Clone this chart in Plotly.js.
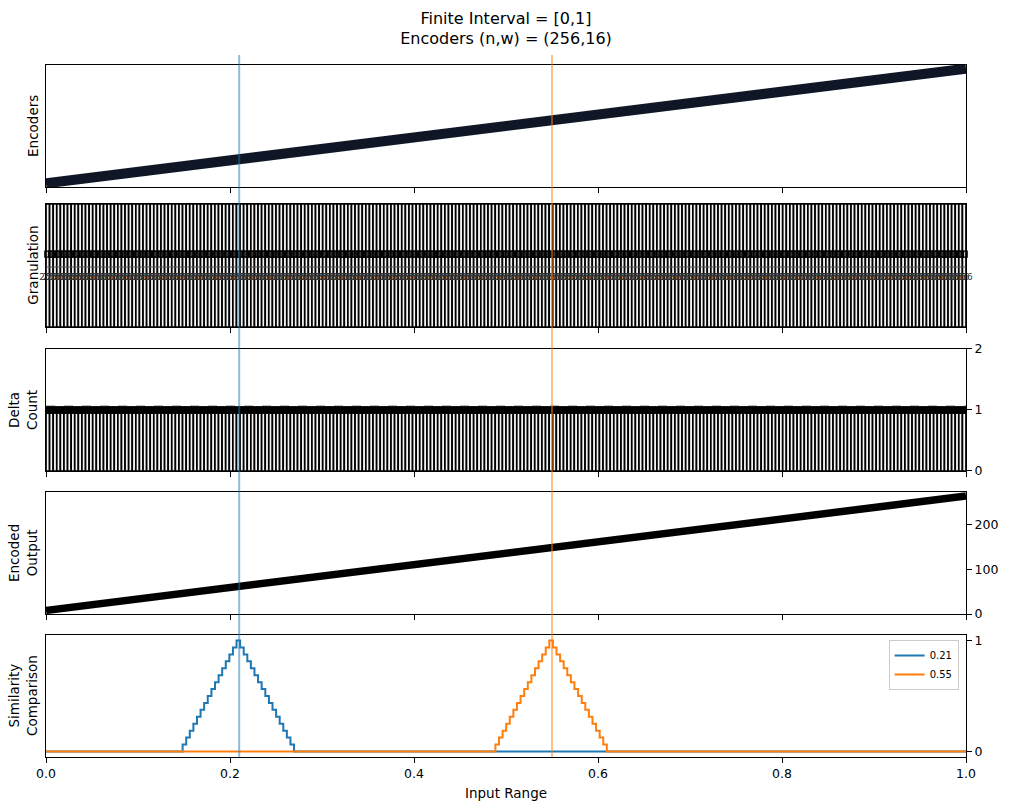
<!DOCTYPE html>
<html>
<head>
<meta charset="utf-8">
<script src="https://cdn.plot.ly/plotly-3.0.1.min.js"></script>
<style>html,body{margin:0;padding:0;background:#fff;}#chart{width:1011px;height:811px;}</style>
</head>
<body>
<div id="chart"></div>
<script>
// ---------------- data ----------------
// Encoders band (start/end of the diagonal band, relative height)
const encoderX = [0, 1];
const encoderY = [0.03, 0.97];

// Granulation: one bucket per encoder bin (256 bins)
const granulation = [
  1,1,1,1,1,1,1,1, 1,1,1,1,1,1,1,1, 1,1,1,1,1,1,1,1, 1,1,1,1,1,1,1,1,
  1,1,1,1,1,1,1,1, 1,1,1,1,1,1,1,1, 1,1,1,1,1,1,1,1, 1,1,1,1,1,1,1,1,
  1,1,1,1,1,1,1,1, 1,1,1,1,1,1,1,1, 1,1,1,1,1,1,1,1, 1,1,1,1,1,1,1,1,
  1,1,1,1,1,1,1,1, 1,1,1,1,1,1,1,1, 1,1,1,1,1,1,1,1, 1,1,1,1,1,1,1,1,
  1,1,1,1,1,1,1,1, 1,1,1,1,1,1,1,1, 1,1,1,1,1,1,1,1, 1,1,1,1,1,1,1,1,
  1,1,1,1,1,1,1,1, 1,1,1,1,1,1,1,1, 1,1,1,1,1,1,1,1, 1,1,1,1,1,1,1,1,
  1,1,1,1,1,1,1,1, 1,1,1,1,1,1,1,1, 1,1,1,1,1,1,1,1, 1,1,1,1,1,1,1,1,
  1,1,1,1,1,1,1,1, 1,1,1,1,1,1,1,1, 1,1,1,1,1,1,1,1, 1,1,1,1,1,1,1,1
];
const granulationLabel = "256";

// Delta count per bin
const deltaCount = [
  1,1,1,1,1,1,1,1, 1,1,1,1,1,1,1,1, 1,1,1,1,1,1,1,1, 1,1,1,1,1,1,1,1,
  1,1,1,1,1,1,1,1, 1,1,1,1,1,1,1,1, 1,1,1,1,1,1,1,1, 1,1,1,1,1,1,1,1,
  1,1,1,1,1,1,1,1, 1,1,1,1,1,1,1,1, 1,1,1,1,1,1,1,1, 1,1,1,1,1,1,1,1,
  1,1,1,1,1,1,1,1, 1,1,1,1,1,1,1,1, 1,1,1,1,1,1,1,1, 1,1,1,1,1,1,1,1,
  1,1,1,1,1,1,1,1, 1,1,1,1,1,1,1,1, 1,1,1,1,1,1,1,1, 1,1,1,1,1,1,1,1,
  1,1,1,1,1,1,1,1, 1,1,1,1,1,1,1,1, 1,1,1,1,1,1,1,1, 1,1,1,1,1,1,1,1,
  1,1,1,1,1,1,1,1, 1,1,1,1,1,1,1,1, 1,1,1,1,1,1,1,1, 1,1,1,1,1,1,1,1,
  1,1,1,1,1,1,1,1, 1,1,1,1,1,1,1,1, 1,1,1,1,1,1,1,1, 1,1,1,1,1,1,1,1
];
const deltaRefX = [0, 1];
const deltaRefY = [1.07, 1.07];

// Encoded output
const encodedX = [0, 1];
const encodedY = [8, 263];

// Similarity comparison (step curves)
const sim021X = [0, 0.1485,0.1524,0.1563,0.1602,0.1641,0.1680,0.1719,0.1758,0.1798,0.1837,0.1876,0.1915,0.1954,0.1993,0.2032,0.2071,
  0.2110,0.2149,0.2188,0.2227,0.2266,0.2305,0.2344,0.2384,0.2423,0.2462,0.2501,0.2540,0.2579,0.2618,0.2657,0.2696, 1];
const sim021Y = [0, 0.0625,0.125,0.1875,0.25,0.3125,0.375,0.4375,0.5,0.5625,0.625,0.6875,0.75,0.8125,0.875,0.9375,1,
  0.9375,0.875,0.8125,0.75,0.6875,0.625,0.5625,0.5,0.4375,0.375,0.3125,0.25,0.1875,0.125,0.0625,0, 0];
const sim055X = [0, 0.4885,0.4924,0.4963,0.5002,0.5041,0.5080,0.5119,0.5158,0.5198,0.5237,0.5276,0.5315,0.5354,0.5393,0.5432,0.5471,
  0.5510,0.5549,0.5588,0.5627,0.5666,0.5705,0.5744,0.5784,0.5823,0.5862,0.5901,0.5940,0.5979,0.6018,0.6057,0.6096, 1];
const sim055Y = [0, 0.0625,0.125,0.1875,0.25,0.3125,0.375,0.4375,0.5,0.5625,0.625,0.6875,0.75,0.8125,0.875,0.9375,1,
  0.9375,0.875,0.8125,0.75,0.6875,0.625,0.5625,0.5,0.4375,0.375,0.3125,0.25,0.1875,0.125,0.0625,0, 0];

const probeValues = [0.21, 0.55];
const probeNames = ["0.21", "0.55"];
const xTicks = [0, 0.2, 0.4, 0.6, 0.8, 1.0];

// ---------------- styling ----------------
const FONT = "DejaVu Sans, Liberation Sans, sans-serif";
const BLUE = "#1f77b4", ORANGE = "#ff7f0e";
const binW = 1 / granulation.length;

const traces = [
  { type: "scatter", mode: "lines", x: encoderX, y: encoderY, xaxis: "x", yaxis: "y",
    line: { color: "#0f1726", width: 10 }, showlegend: false, hoverinfo: "skip" },

  { type: "bar", y: granulation, x0: binW / 2, dx: binW, width: binW, base: 0, xaxis: "x2", yaxis: "y2",
    marker: { color: "#f4f4f4", line: { color: "#000", width: 1.7 } }, showlegend: false, hoverinfo: "skip" },
  { type: "scatter", mode: "markers", y: granulation, x0: binW / 2, dx: binW, xaxis: "x2", yaxis: "y6",
    marker: { symbol: "square-open", size: 6, color: "#000", line: { color: "#000", width: 1.2 } },
    showlegend: false, hoverinfo: "skip", cliponaxis: false },
  { type: "scatter", mode: "text", y: granulation, x0: binW / 2, dx: binW, xaxis: "x2", yaxis: "y7",
    text: granulationLabel, textfont: { family: FONT, size: 9, color: "#333" },
    showlegend: false, hoverinfo: "skip", cliponaxis: false },

  { type: "bar", y: deltaCount, x0: binW / 2, dx: binW, width: binW, base: 0, xaxis: "x3", yaxis: "y3",
    marker: { color: "#f4f4f4", line: { color: "#000", width: 1.7 } }, showlegend: false, hoverinfo: "skip" },
  { type: "scatter", mode: "lines", x: deltaRefX, y: deltaRefY, xaxis: "x3", yaxis: "y3",
    line: { color: "#aaaaaa", width: 1, dash: "dash" }, showlegend: false, hoverinfo: "skip" },
  { type: "scatter", mode: "markers", y: deltaCount, x0: binW / 2, dx: binW, xaxis: "x3", yaxis: "y3",
    marker: { symbol: "circle", size: 8, color: "#000" }, showlegend: false, hoverinfo: "skip" },

  { type: "scatter", mode: "lines", x: encodedX, y: encodedY, xaxis: "x4", yaxis: "y4",
    line: { color: "#000", width: 7.5 }, showlegend: false, hoverinfo: "skip" },

  { type: "scatter", mode: "lines", x: sim021X, y: sim021Y, xaxis: "x5", yaxis: "y5", name: probeNames[0],
    line: { color: BLUE, width: 2, shape: "hv" } },
  { type: "scatter", mode: "lines", x: sim055X, y: sim055Y, xaxis: "x5", yaxis: "y5", name: probeNames[1],
    line: { color: ORANGE, width: 2, shape: "hv" } }
];

// panel domains (paper fractions, plot area 692px tall)
const doms = [[0.8237, 1], [0.6214, 0.7991], [0.4133, 0.5896], [0.2066, 0.3829], [0, 0.1763]];

function xAx(i, showLabels) {
  return {
    domain: [0, 1], anchor: "y" + (i === 1 ? "" : i), range: [0, 1],
    tickvals: xTicks, ticks: "outside", ticklen: 5, tickwidth: 1, tickcolor: "#000",
    showticklabels: showLabels, tickformat: ".1f",
    tickfont: { family: FONT, size: 12.5, color: "#000" },
    showline: true, linecolor: "#000", linewidth: 1, mirror: true,
    showgrid: false, zeroline: false, fixedrange: true
  };
}
function yAx(i, range, opts) {
  return Object.assign({
    domain: doms[i - 1], anchor: "x" + (i === 1 ? "" : i), range: range,
    showline: true, linecolor: "#000", linewidth: 1, mirror: true,
    showgrid: false, zeroline: false, showticklabels: false, ticks: "", fixedrange: true
  }, opts || {});
}
const rightTicks = (vals) => ({
  side: "right", tickvals: vals, ticks: "outside", ticklen: 5, tickwidth: 1, tickcolor: "#000",
  showticklabels: true, tickfont: { family: FONT, size: 12.5, color: "#000" }
});

const layout = {
  width: 1011, height: 811,
  margin: { l: 46, r: 45, t: 65, b: 54 },
  paper_bgcolor: "#fff", plot_bgcolor: "#fff",
  font: { family: FONT, color: "#000" },
  title: {
    text: "Finite Interval = [0,1]<br>Encoders (n,w) = (256,16)",
    x: 0.5, xref: "paper", xanchor: "center", y: 0.971, yref: "container", yanchor: "top",
    font: { family: FONT, size: 16, color: "#000" }
  },
  bargap: 0,
  xaxis: xAx(1, false), xaxis2: xAx(2, false), xaxis3: xAx(3, false), xaxis4: xAx(4, false),
  xaxis5: Object.assign(xAx(5, true), {
    title: { text: "Input Range", font: { family: FONT, size: 13.5, color: "#000" }, standoff: 8 }
  }),
  yaxis: yAx(1, [0, 1]),
  yaxis2: yAx(2, [0, 1]),
  yaxis3: yAx(3, [0, 2], rightTicks([0, 1, 2])),
  yaxis4: yAx(4, [0, 272], rightTicks([0, 100, 200])),
  yaxis5: yAx(5, [-0.05, 1.05], rightTicks([0, 1])),
  yaxis6: { overlaying: "y2", anchor: "x2", range: [0, 1.686], visible: false, fixedrange: true },
  yaxis7: { overlaying: "y2", anchor: "x2", range: [0, 2.51], visible: false, fixedrange: true },
  legend: {
    x: 0.992, xanchor: "right", y: 0.169, yanchor: "top",
    bgcolor: "rgba(255,255,255,0.9)", bordercolor: "#cccccc", borderwidth: 1,
    font: { family: FONT, size: 10, color: "#000" }, itemwidth: 30, tracegroupgap: 0
  },
  shapes: [
    { type: "line", xref: "x2", yref: "y2", x0: 0, x1: 1, y0: 0.488, y1: 0.488,
      line: { color: "#555", width: 1 }, layer: "above" },
    { type: "line", xref: "x5", yref: "paper", x0: probeValues[0], x1: probeValues[0], y0: 0, y1: 1.0145,
      line: { color: "rgba(31,119,180,0.5)", width: 2 }, layer: "above" },
    { type: "line", xref: "x5", yref: "paper", x0: probeValues[1], x1: probeValues[1], y0: 0, y1: 1.0145,
      line: { color: "rgba(255,127,14,0.5)", width: 2 }, layer: "above" }
  ],
  annotations: [
    { text: "Encoders", x: -0.0141, y: 0.912, xref: "paper", yref: "paper", textangle: -90, showarrow: false,
      xanchor: "center", yanchor: "middle", font: { family: FONT, size: 13.5, color: "#000" } },
    { text: "Granulation", x: -0.0141, y: 0.7101, xref: "paper", yref: "paper", textangle: -90, showarrow: false,
      xanchor: "center", yanchor: "middle", font: { family: FONT, size: 13.5, color: "#000" } },
    { text: "Delta<br>Count", x: -0.025, y: 0.5014, xref: "paper", yref: "paper", textangle: -90, showarrow: false,
      xanchor: "center", yanchor: "middle", font: { family: FONT, size: 13.5, color: "#000" } },
    { text: "Encoded<br>Output", x: -0.025, y: 0.2948, xref: "paper", yref: "paper", textangle: -90, showarrow: false,
      xanchor: "center", yanchor: "middle", font: { family: FONT, size: 13.5, color: "#000" } },
    { text: "Similarity<br>Comparison", x: -0.025, y: 0.0882, xref: "paper", yref: "paper", textangle: -90, showarrow: false,
      xanchor: "center", yanchor: "middle", font: { family: FONT, size: 13.5, color: "#000" } }
  ]
};

Plotly.newPlot("chart", traces, layout, { displayModeBar: false, staticPlot: true });
</script>
</body>
</html>
